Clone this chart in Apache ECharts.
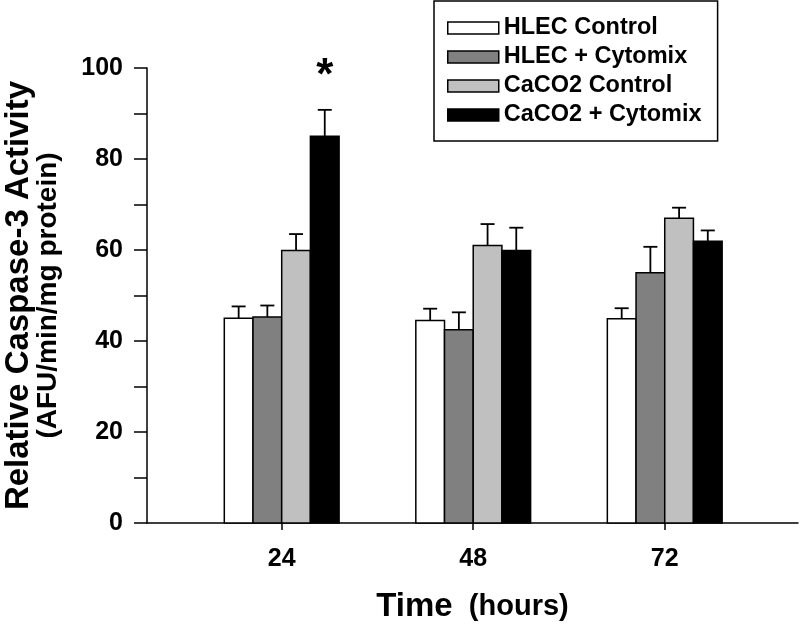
<!DOCTYPE html>
<html><head><meta charset="utf-8">
<script src="https://cdn.jsdelivr.net/npm/echarts@6/dist/echarts.min.js"></script>
<style>html,body{margin:0;padding:0;background:#fff}#c{width:800px;height:624px}</style>
</head><body><div id="c"></div>
<script>
// ---- data ----
const times = [24, 48, 72];
const seriesNames = ['HLEC Control', 'HLEC + Cytomix', 'CaCO2 Control', 'CaCO2 + Cytomix'];
const hlecControl = [45.0, 44.5, 44.9];
const hlecCytomix = [45.3, 42.5, 55.0];
const caco2Control = [59.9, 61.0, 67.0];
const caco2Cytomix = [85.0, 59.9, 61.9];
const hlecControlErr = [2.6, 2.6, 2.3];
const hlecCytomixErr = [2.5, 3.8, 5.7];
const caco2ControlErr = [3.6, 4.7, 2.3];
const caco2CytomixErr = [5.8, 5.0, 2.4];
const significance = [{ time: 24, seriesIndex: 3, label: '*' }];
const yTickValues = [0, 20, 40, 60, 80, 100];

// ---- style ----
const FONT = '"Liberation Sans", Arial, Helvetica, sans-serif';
const colors = ['#ffffff', '#808080', '#c0c0c0', '#000000'];
const BAR_W = 28.7;
const CAP = 7;

const values = [hlecControl, hlecCytomix, caco2Control, caco2Cytomix];
const errs = [hlecControlErr, hlecCytomixErr, caco2ControlErr, caco2CytomixErr];

const chart = echarts.init(document.getElementById('c'), null, { renderer: 'canvas' });

const series = [];
values.forEach((vals, i) => {
  series.push({
    name: seriesNames[i],
    type: 'custom',
    silent: true,
    z: 2,
    itemStyle: { color: colors[i], borderColor: '#000', borderWidth: 1.5 },
    data: times.map((t, j) => [t, vals[j], errs[i][j]]),
    encode: { x: 0, y: 1 },
    renderItem: function (params, api) {
      const x = api.value(0), y = api.value(1), e = api.value(2);
      const base = api.coord([x, 0]);
      const topP = api.coord([x, y]);
      const errP = api.coord([x, y + e]);
      const cx = base[0] + (i - 1.5) * BAR_W;
      const st = { stroke: '#000', lineWidth: 1.8 };
      return {
        type: 'group',
        children: [
          { type: 'line', z2: 1, shape: { x1: cx, y1: topP[1], x2: cx, y2: errP[1] }, style: st },
          { type: 'line', z2: 1, shape: { x1: cx - CAP, y1: errP[1], x2: cx + CAP, y2: errP[1] }, style: st },
          { type: 'rect', z2: 2,
            shape: { x: cx - BAR_W / 2, y: topP[1], width: BAR_W, height: base[1] - topP[1] },
            style: { fill: colors[i], stroke: '#000', lineWidth: 1.5 } }
        ]
      };
    }
  });
});
series.push({
  type: 'custom',
  silent: true,
  z: 3,
  data: significance.map(s => {
    const j = times.indexOf(s.time);
    const k = s.seriesIndex;
    return [s.time, values[k][j] + errs[k][j], k];
  }),
  renderItem: function (params, api) {
    const p = api.coord([api.value(0), api.value(1)]);
    const k = api.value(2);
    const cx = p[0] + (k - 1.5) * BAR_W;
    return {
      type: 'text',
      style: {
        x: cx, y: p[1] - 33, text: significance[params.dataIndex].label,
        fontSize: 44, fontWeight: 'bold', fontFamily: FONT, fill: '#000',
        align: 'center', verticalAlign: 'middle'
      }
    };
  }
});

chart.setOption({
  animation: false,
  backgroundColor: '#fff',
  grid: { left: 147, right: 2, top: 68, bottom: 101, containLabel: false, outerBoundsMode: 'none' },
  legend: {
    data: seriesNames.map(n => ({ name: n, icon: 'rect' })),
    orient: 'vertical',
    left: 434, top: 1,
    itemWidth: 51, itemHeight: 12,
    itemGap: 5, itemTextGap: 11,
    padding: [15, 16, 14, 13],
    borderColor: '#000', borderWidth: 1.5,
    itemStyle: { borderColor: '#000', borderWidth: 1.5 },
    textStyle: { fontSize: 23.5, fontWeight: 'bold', color: '#000', fontFamily: FONT },
    selectedMode: false
  },
  xAxis: {
    type: 'value',
    min: 7.12, max: 88.7,
    axisLine: { show: true, onZero: false, lineStyle: { color: '#000', width: 1.5 } },
    axisTick: { show: true, length: 7, customValues: times, lineStyle: { color: '#000', width: 1.5 } },
    axisLabel: { customValues: times, fontSize: 25, fontWeight: 'bold', color: '#000', fontFamily: FONT, margin: 24 },
    splitLine: { show: false },
    name: '{a|Time}{b|  (hours)}',
    nameLocation: 'middle',
    nameGap: 67,
    nameTextStyle: {
      rich: {
        a: { fontSize: 33, fontWeight: 'bold', color: '#000', fontFamily: FONT },
        b: { fontSize: 29, fontWeight: 'bold', color: '#000', fontFamily: FONT }
      }
    }
  },
  yAxis: {
    type: 'value',
    min: 0, max: 100, interval: 20,
    axisLine: { show: true, onZero: false, lineStyle: { color: '#000', width: 1.5 } },
    axisTick: { show: true, length: 13, lineStyle: { color: '#000', width: 1.5 } },
    minorTick: { show: true, splitNumber: 2, length: 13, lineStyle: { color: '#000', width: 1.5 } },
    splitLine: { show: false },
    minorSplitLine: { show: false },
    axisLabel: { fontSize: 25, fontWeight: 'bold', color: '#000', fontFamily: FONT, margin: 24,
      customValues: yTickValues },
    name: '{a|Relative Caspase-3 Activity}\n{b|(AFU/min/mg protein)}',
    nameLocation: 'middle',
    nameRotate: 90,
    nameGap: 85,
    nameTextStyle: {
      align: 'center',
      rich: {
        a: { fontSize: 33, fontWeight: 'bold', color: '#000', fontFamily: FONT, lineHeight: 31, align: 'center' },
        b: { fontSize: 28, fontWeight: 'bold', color: '#000', fontFamily: FONT, lineHeight: 28, align: 'center' }
      }
    }
  },
  series: series
});
</script>
</body></html>
